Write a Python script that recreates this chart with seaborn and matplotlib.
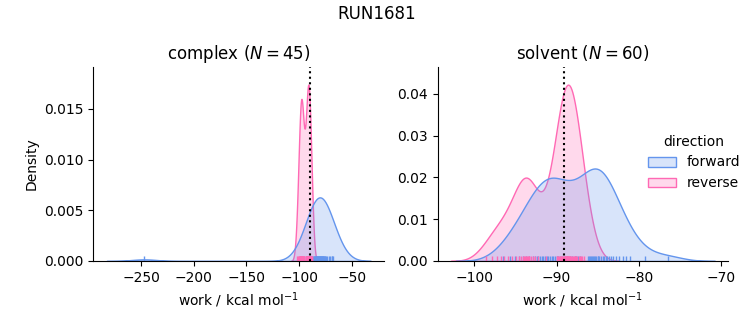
import matplotlib
matplotlib.use("Agg")
import matplotlib.pyplot as plt
import pandas as pd
import seaborn as sns

run_name = "RUN1681"
phases = ["complex", "solvent"]
directions = ["forward", "reverse"]
n_cycles = [45, 60]
dg_lines = [-89.3, -89.1]
palette = {"forward": "cornflowerblue", "reverse": "hotpink"}

complex_forward = [
    -247.0,
    -93.5, -91.2, -89.6, -88.4, -87.5, -86.8, -86.2, -85.7, -85.1, -84.6,
    -84.2, -83.8, -83.4, -83.0, -82.6, -82.3, -82.0, -81.7, -81.4, -81.1,
    -80.8, -80.5, -80.2, -79.9, -79.6, -79.3, -79.0, -78.7, -78.4, -78.0,
    -77.6, -77.3, -76.9, -76.5, -76.1, -75.6, -75.0, -74.0, -73.2, -71.8,
    -70.5, -69.2, -68.4, -67.7,
]
complex_reverse = [
    -102.0, -101.1, -100.4, -99.9, -99.5, -99.2, -98.9, -98.7, -98.5, -98.3,
    -98.1, -97.9, -97.7, -97.5, -97.3, -97.0, -96.7, -96.4, -96.0, -95.6,
    -95.3, -94.9,
    -93.7, -93.3, -93.0, -92.7, -92.4, -92.2, -91.9, -91.7, -91.5, -91.4,
    -91.2, -91.0, -90.8, -90.6, -90.4, -90.2, -89.9, -89.6, -89.2, -88.8,
    -88.5, -88.1, -87.6,
]
solvent_forward = [
    -96.5, -95.6, -95.0, -94.5, -94.1, -93.7, -93.3,
    -92.8, -92.6, -92.4, -92.2, -92.0, -91.8, -91.6, -91.4, -91.2, -91.0,
    -90.8, -90.6, -90.4, -90.2, -90.0, -89.8, -89.6,
    -89.3, -89.0, -88.7, -88.4, -88.1, -87.8, -87.6, -87.4, -87.2,
    -86.2, -86.0, -85.9, -85.8, -85.7, -85.6, -85.5, -85.3, -85.2, -85.0,
    -84.9, -84.8, -84.6, -84.4, -84.2, -84.0, -83.8, -83.6, -83.4, -83.1,
    -82.8, -82.4, -81.9, -81.5, -81.1, -79.3, -76.5,
]
solvent_reverse = [
    -98.6, -97.8, -97.2, -96.8, -96.4, -95.9, -95.4,
    -94.9, -94.6, -94.3, -94.1, -93.95, -93.8, -93.7, -93.6, -93.5, -93.4,
    -93.3, -93.1, -92.9, -92.6, -92.2,
    -91.3,
    -90.0, -89.9, -89.8, -89.7, -89.6, -89.5, -89.4, -89.3, -89.2, -89.1,
    -89.0, -88.95, -88.9, -88.85, -88.8, -88.75, -88.7, -88.65, -88.6, -88.55,
    -88.5, -88.45, -88.4, -88.3, -88.2, -88.1, -88.0, -87.9, -87.8, -87.7,
    -87.6, -87.45, -87.3, -87.15, -87.05, -86.9, -86.7,
]

series = [
    ("complex", "forward", complex_forward),
    ("complex", "reverse", complex_reverse),
    ("solvent", "forward", solvent_forward),
    ("solvent", "reverse", solvent_reverse),
]
rows = []
for phase, direction, values in series:
    for v in values:
        rows.append({"phase": phase, "direction": direction, "work": v})
df = pd.DataFrame(rows)

g = sns.displot(
    data=df, x="work", hue="direction", col="phase", kind="kde",
    fill=True, rug=True, palette=palette, hue_order=directions,
    col_order=phases, facet_kws=dict(sharex=False, sharey=False),
    height=3, aspect=1,
)
g.set_axis_labels("work / kcal mol$^{-1}$", "Density")
for ax, phase, n, dg in zip(g.axes.flat, phases, n_cycles, dg_lines):
    ax.set_title(f"{phase} ($N={n}$)", fontsize=12)
    ax.axvline(dg, color="black", linestyle=":", linewidth=1.5)

fig = g.figure
fig.set_size_inches(7.53, 3.25)
fig.set_dpi(100)
fig.subplots_adjust(left=0.124, right=0.967, bottom=0.197, top=0.794, wspace=0.184)
fig.suptitle(run_name, fontsize=12, y=0.985)
fig.savefig("out.png", dpi=100)
